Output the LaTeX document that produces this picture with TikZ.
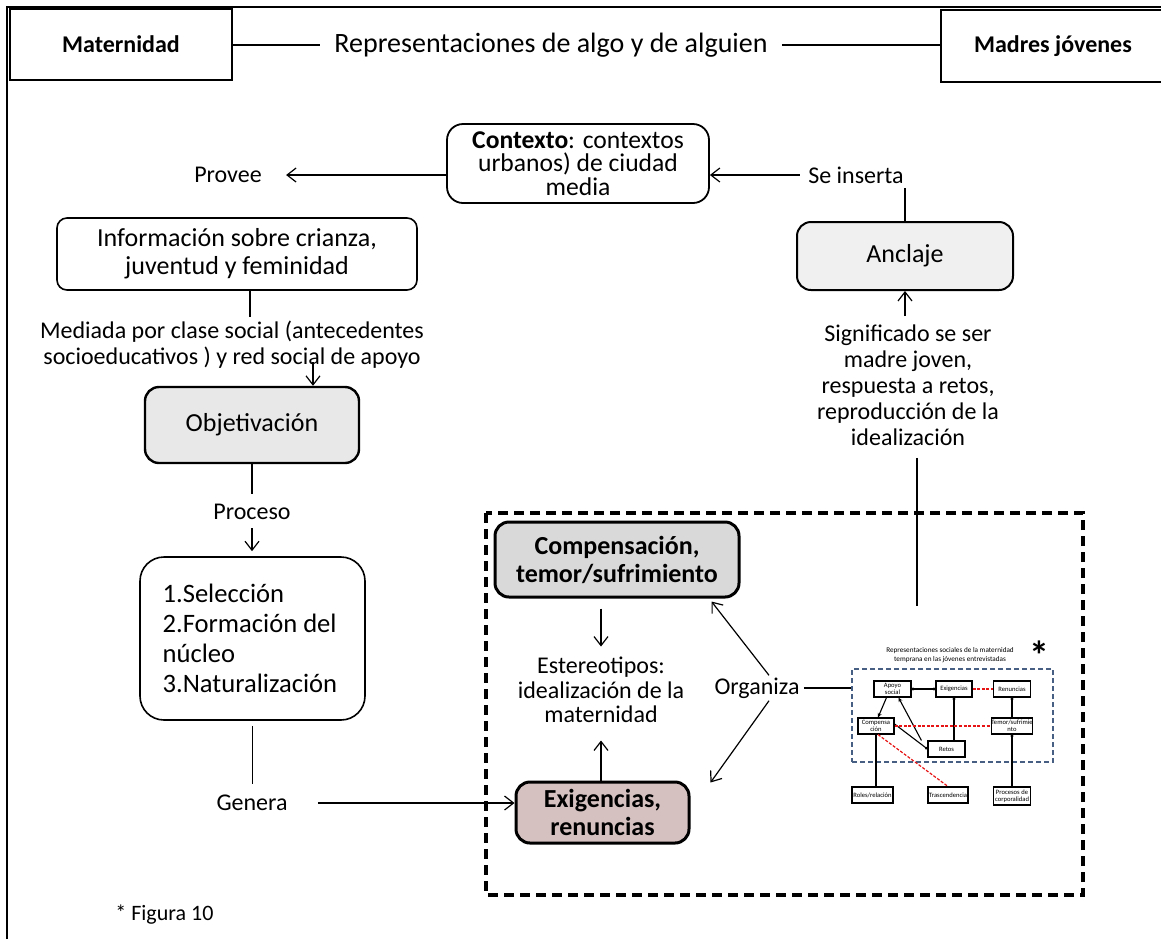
\documentclass[tikz,border=0pt]{standalone}
\usepackage{fontspec}
\setmainfont{Carlito}
\usetikzlibrary{arrows.meta}
\definecolor{exfill}{RGB}{214,193,193}
\definecolor{cofill}{RGB}{217,217,217}
\definecolor{obfill}{RGB}{232,232,232}
\definecolor{anfill}{RGB}{240,240,240}
\definecolor{fblue}{RGB}{70,95,130}
\definecolor{fred}{RGB}{230,20,20}
\begin{document}
\begin{tikzpicture}[x=0.5pt,y=-0.5pt,
  every node/.style={font=\fontsize{12}{13}\selectfont, inner sep=0pt},
  arr/.style={-{Straight Barb[length=4.5pt,width=7pt]}, line width=0.6pt},
  ln/.style={line width=0.6pt},
  hdr/.style={draw, line width=1.4pt, font=\bfseries\fontsize{12}{14}\selectfont},
  rbox/.style={draw, rounded corners=7pt, line width=0.8pt, align=center},
  sb/.style={draw, line width=0.55pt, fill=white, align=center, font=\fontsize{3.3}{3.7}\selectfont, minimum height=8pt},
  sl/.style={line width=0.55pt},
  sa/.style={line width=0.55pt, -{Stealth[length=2.2pt,width=2pt]}},
  rd/.style={line width=0.6pt, draw=fred, dash pattern=on 1.5pt off 0.8pt},
  dot/.style={{Circle[length=1.4pt]}-},
]
\useasboundingbox (0,0) rectangle (1161,939);

% outer frame
\draw[line width=0.8pt] (7,939) -- (7,7) -- (1161,7);

% header
\node[hdr, minimum width=111pt, minimum height=35.5pt] (mat) at (121,44.5) {Maternidad};
\node[hdr, minimum width=112pt, minimum height=36pt] (mad) at (1053,46) {Madres jóvenes};
\node[font=\fontsize{14}{15}\selectfont, inner xsep=7pt] (tit) at (551,45) {Representaciones de algo y de alguien};
\draw[ln] (mat.east |- tit) -- (tit.west);
\draw[ln] (tit.east) -- (mad.west |- tit);

% context
\node[rbox, rounded corners=8pt, line width=0.9pt, minimum width=131pt, minimum height=39.5pt,
      font=\fontsize{12.8}{11.8}\selectfont] (ctx) at (578,163.5) {\textbf{Contexto}: contextos\\urbanos) de ciudad\\media};
\node (pro) at (228,175) {Provee};
\draw[arr] (ctx.west |- pro) -- ([xshift=12pt]pro.east);
\node (sei) at (856,175) {Se inserta};
\draw[arr] ([xshift=-4pt]sei.west) -- (ctx.east |- sei);

\node[rbox, fill=anfill, line width=1pt, minimum width=108pt, minimum height=34pt,
      font=\fontsize{13}{15}\selectfont] (anc) at (905,256) {Anclaje};
\draw[ln] (anc.north) -- ++(0,-33);

% left column
\node[rbox, rounded corners=5pt, minimum width=180pt, minimum height=36pt,
      font=\fontsize{13}{14}\selectfont] (inf) at (237,254) {Información sobre crianza,\\juventud y feminidad};
\node[align=center, font=\fontsize{12}{13}\selectfont] (med) at (232,345)
   {Mediada por clase social (antecedentes\\socioeducativos ) y red social de apoyo};
\draw[ln] (inf.south -| 250,0) -- ++(0,26);

\node[rbox, fill=obfill, line width=1.2pt, minimum width=107pt, minimum height=38pt,
      font=\fontsize{13}{15}\selectfont] (obj) at (252,425) {Objetivación};
\draw[arr] (313,362) -- (obj.north -| 313,0);

\node (prc) at (252,512) {Proceso};
\draw[ln] (obj.south) -- ++(0,30);
\draw[arr] ([yshift=-4pt]prc.south) -- ++(0,23);

\node[rbox, rounded corners=12pt, minimum width=112.5pt, minimum height=81.5pt] (sel) at (252.5,638.5) {};
\node[align=left, anchor=west, font=\fontsize{13.3}{15}\selectfont] (selt) at ([xshift=11.5pt]sel.west)
   {1.Selección\\2.Formación del\\núcleo\\3.Naturalización};

\node (gen) at (252,803) {Genera};
\draw[ln] (sel.south) ++(0,5) -- ++(0,58);

% dashed region
\draw[line width=1.6pt, dash pattern=on 5pt off 3pt] (486,513) rectangle (1083,895);

\node[rbox, fill=cofill, line width=1.5pt, minimum width=122pt, minimum height=37.5pt,
      font=\bfseries\fontsize{13}{14}\selectfont] (com) at (617,559.5) {Compensación,\\temor/sufrimiento};
\node[rbox, fill=exfill, line width=1.5pt, minimum width=86.5pt, minimum height=30.5pt,
      font=\bfseries\fontsize{13}{14}\selectfont] (exi) at (602.5,812.5) {Exigencias,\\renuncias};
\draw[arr] ([xshift=15pt]gen.east) -- (exi.west |- gen);

\node[align=center, font=\fontsize{12}{12.3}\selectfont] (est) at (601,690) {Estereotipos:\\idealización de la\\maternidad};
\draw[arr] (com.south -| est) ++(0,10) -- ++(0,38);
\draw[arr] (exi.north -| est) -- ++(0,-40);

\node (org) at (757,688) {Organiza};
\draw[arr] ([xshift=6pt,yshift=1pt]org.north) -- ([xshift=-14.5pt,yshift=-1.5pt]com.south east);
\draw[arr] ([xshift=6pt,yshift=-1pt]org.south) -- ([xshift=10pt,yshift=-1pt]exi.north east);

\node[align=center, font=\fontsize{12}{13}\selectfont] (sig) at (908,385)
   {Significado se ser\\madre joven,\\respuesta a retos,\\reproducción de la\\idealización};
\draw[arr] ([yshift=4pt]sig.north -| anc) -- (anc.south);
\coordinate (ftop) at (917,606);
\draw[ln] ([yshift=-6pt]sig.south -| ftop) -- (ftop);

% embedded figure
\node[align=center, font=\fontsize{3.6}{4.1}\selectfont] (ftit) at (950,655)
   {Representaciones sociales de la maternidad\\temprana en las jóvenes entrevistadas};
\node[font=\bfseries\fontsize{20}{20}\selectfont] (star) at (1039,655) {*};
\node[draw=fblue, line width=0.7pt, dash pattern=on 2.5pt off 1.5pt, minimum width=100.5pt, minimum height=46.5pt] (fbox) at (952.5,715.5) {};
\draw[ln] (org.east) ++(2pt,0) -- (fbox.west |- org);

\node[sb, minimum width=18.5pt] (ap) at (892.5,689) {Apoyo\\social};
\node[sb, minimum width=18pt] (ex) at (954,689) {Exigencias};
\node[sb, minimum width=18.5pt] (re) at (1012,689) {Renuncias};
\node[sb, minimum width=18pt] (co) at (876,726) {Compensa\\ción};
\node[sb, minimum width=18.5pt] (te) at (1012,726) {Temor/sufrimie\\nto};
\node[sb, minimum width=18.5pt] (rt) at (946.5,749) {Retos};
\node[sb, minimum width=20.5pt] (ro) at (872.5,795) {Roles/relación};
\node[sb, minimum width=20pt] (tr) at (948,795) {Trascendencia};
\node[sb, minimum width=18.5pt, minimum height=9pt] (pr) at (1012,796) {Procesos de\\corporalidad};

\draw[sl, {Circle[length=1.4pt]}-{Circle[length=1.4pt]}] (ap.east) -- (ex.west);
\draw[rd] (ex.east) -- (re.west);
\draw[sa] ([xshift=-3pt]ap.south) -- ([xshift=1pt]co.north);
\draw[sa] ([xshift=-3pt]rt.north west) -- ([xshift=3pt]ap.south);
\draw[sl, -{Circle[length=1.4pt]}] ([yshift=1pt]co.east) -- (rt.west);
\draw[sl, dot] (ex.south) -- (rt.north -| ex.south);
\draw[sl, dot] (re.south) -- (te.north);
\draw[rd] (co.east) -- (te.west);
\draw[sl] (co.south) -- (ro.north -| co.south);
\draw[rd] ([xshift=1pt]co.south) -- (tr.north);
\draw[sl, dot] (te.south) -- (pr.north);

% footnote
\node[font=\fontsize{11}{12}\selectfont, anchor=west] (fig) at (115,915) {* Figura 10};
\end{tikzpicture}
\end{document}
